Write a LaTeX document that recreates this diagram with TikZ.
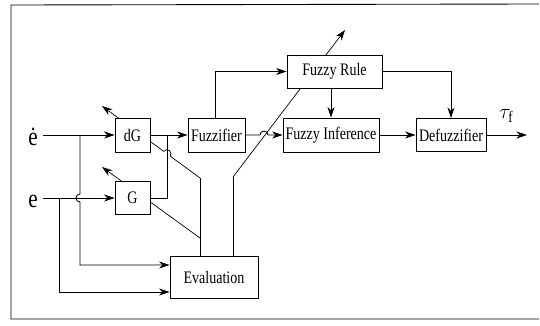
\documentclass[tikz,border=0pt]{standalone}
\usepackage{fontspec}
\setmainfont{Liberation Serif}[FakeStretch=0.8]
\usetikzlibrary{arrows.meta, backgrounds, calc}

\begin{document}
\begin{tikzpicture}[x=0.02cm, y=-0.02cm, line width=0.5pt,
    blk/.style={draw, fill=white, inner sep=0pt, font=\fontsize{10}{12}\selectfont},
    arr/.style={-{Stealth[length=6pt, width=4pt]}},
    sig/.style={inner sep=0pt, font=\fontsize{15}{15}\selectfont}]

        \useasboundingbox (0,0) rectangle (540,325);

        % Frame
        \draw (539,4) -- (11,5) -- (11,319) -- (539,319);

        % Blocks
        \node[blk, minimum width=0.7cm, minimum height=0.68cm] (dG) at (132.5,135) {dG};
        \node[blk, minimum width=0.7cm, minimum height=0.66cm] (G) at (132.5,198) {G};
        \node[blk, minimum width=1.14cm, minimum height=0.68cm] (Fuzz) at (216.5,135) {Fuzzifier};
        \node[blk, minimum width=1.9cm, minimum height=0.66cm] (FRule) at (334.5,71.5) {Fuzzy Rule};
        \node[blk, minimum width=1.92cm, minimum height=0.68cm] (FInf) at (331,135) {Fuzzy Inference};
        \node[blk, minimum width=1.4cm, minimum height=0.66cm] (Defuzz) at (451,135) {Defuzzifier};
        \node[blk, minimum width=1.76cm, minimum height=0.84cm] (Eval) at (214,277) {Evaluation};

        % Signals
        \node[sig] (eDot) at (33,137) {ė};
        \node[sig] (eIn) at (33,201) {e};
        \node[font=\fontsize{13}{13}\selectfont] (tau) at (507,116) {$\tau_{\mathrm{f}}$};

        % Points
        \coordinate (bD) at (80,135);
        \coordinate (bE) at (59,198);
        \coordinate (jG) at (167,135);
        \coordinate (kL) at (200,178);
        \coordinate (kG) at (200,238);
        \coordinate (kR) at (233,177);
        \coordinate (tD) at (102,106);
        \coordinate (tG) at (102,167);
        \coordinate (tR) at (345,30);
        \coordinate (xF) at (264,135);
        \coordinate (out) at (527,135);

        % Inputs
        \draw[arr, shorten <=3pt] (eDot.east |- dG.west) -- (dG.west);
        \draw[arr, shorten <=3pt] (eIn.east |- G.west) -- (G.west);
        \draw[arr] (bD) -- ($(bD |- G.west)+(0,-4)$)
            arc[start angle=90, end angle=270, radius=0.08cm]
            |- ([yshift=0.24cm]Eval.west);
        \draw[arr] (bE) |- ([yshift=-0.3cm]Eval.west);

        % Forward path
        \draw[arr] (dG.east) -- (Fuzz.west);
        \draw (G.east) -| (jG);
        \draw[arr] (Fuzz.east) -- ($(xF)+(-4,0)$)
            arc[start angle=180, end angle=0, radius=0.08cm] -- (FInf.west);
        \draw[arr] (Fuzz.north -| 215,0) |- (FRule.west);
        \draw[arr] (FRule.south -| FInf.north) -- (FInf.north);
        \draw[arr] (FRule.east) -| (Defuzz.north);
        \draw[arr] (FInf.east) -- (Defuzz.west);
        \draw[arr] (Defuzz.east) -- (out);

        % Adaptation
        \draw (Eval.north -| kL) -- (kL);
        \draw (Eval.north -| kR) -- (kR);
        \begin{scope}[on background layer]
            \draw[arr] (kL) -- ($(kL)!0.304!(tD)$)
                arc[start angle=-36.3, end angle=143.7, radius=0.08cm] -- (tD);
            \draw[arr] (kG) -- (tG);
            \draw[arr] (kR) -- (tR);
        \end{scope}

    \end{tikzpicture}
\end{document}
